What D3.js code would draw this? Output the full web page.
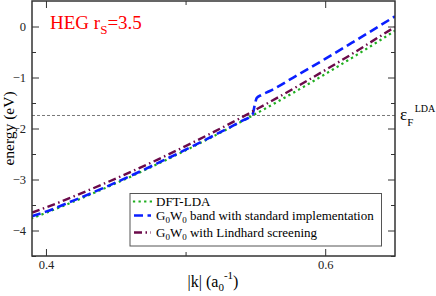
<!DOCTYPE html>
<html>
<head>
<meta charset="utf-8">
<script src="https://cdn.jsdelivr.net/npm/d3@7"></script>
<style>
  body { margin: 0; background: #fff; }
  svg text { font-family: "Liberation Serif", serif !important; }
</style>
</head>
<body>
<script>
// values
var kValues = [0.39, 0.40, 0.42, 0.44, 0.46, 0.48, 0.50, 0.52, 0.54, 0.548, 0.56, 0.58, 0.60, 0.62, 0.64, 0.65];
var ldaValues = [-3.76, -3.654, -3.431, -3.197, -2.952, -2.696, -2.43, -2.152, -1.864, -1.745, -1.564, -1.254, -0.933, -0.601, -0.258, -0.083];
var lindhardValues = [-3.65, -3.55, -3.33, -3.10, -2.86, -2.61, -2.345, -2.07, -1.785, -1.665, -1.485, -1.175, -0.855, -0.525, -0.18, -0.01];

var kBlue = [0.39, 0.40, 0.42, 0.44, 0.46, 0.48, 0.50, 0.52, 0.54, 0.548, 0.5496, 0.551, 0.5546, 0.56, 0.58, 0.60, 0.62, 0.64, 0.65];
var standardValues = [-3.72, -3.63, -3.41, -3.18, -2.935, -2.68, -2.415, -2.14, -1.855, -1.72, -1.53, -1.40, -1.34, -1.27, -0.955, -0.635, -0.305, 0.03, 0.2];

var fermiLevel = -1.745;
var xMajorTicks = [0.4, 0.6];
var xMinorTicks = [0.5];
var yMajorTicks = [-4, -3, -2, -1, 0];
var yMinorTicks = [-4.5, -3.5, -2.5, -1.5, -0.5];

var legendNames = ["DFT-LDA", "G0W0 band with standard implementation", "G0W0 with Lindhard screening"];

var W = 436, H = 296;
var pLeft = 32, pRight = 395, pTop = 1, pBottom = 256;

var svg = d3.select("body").append("svg")
    .attr("width", W)
    .attr("height", H);

var x = d3.scaleLinear().domain([0.39, 0.65]).range([pLeft, pRight]);
var y = d3.scaleLinear().domain([-4.5, 0.5]).range([pBottom, pTop]);

// clip for curves
svg.append("clipPath").attr("id", "clip")
    .append("rect")
    .attr("x", pLeft).attr("y", pTop)
    .attr("width", pRight - pLeft).attr("height", pBottom - pTop);

// fermi level line
svg.append("line")
    .attr("x1", pLeft).attr("x2", pRight)
    .attr("y1", y(fermiLevel)).attr("y2", y(fermiLevel))
    .attr("stroke", "#555")
    .attr("stroke-width", 0.8)
    .attr("stroke-dasharray", "3,2");

var line = d3.line()
    .x(function (d) { return x(d[0]); })
    .y(function (d) { return y(d[1]); })
    .curve(d3.curveMonotoneX);

var series = [
    { pts: d3.zip(kValues, ldaValues), color: "#1fae1f", width: 2.2, dash: "0.1,5.5", cap: "square" },
    { pts: d3.zip(kBlue, standardValues), color: "#0a1fff", width: 2.6, dash: "9,4.5", cap: "butt" },
    { pts: d3.zip(kValues, lindhardValues), color: "#6b0a4a", width: 2.4, dash: "8,3.5,1.5,3.5", cap: "butt" }
];

var g = svg.append("g").attr("clip-path", "url(#clip)");
series.forEach(function (s) {
    g.append("path")
        .attr("d", line(s.pts))
        .attr("fill", "none")
        .attr("stroke", s.color)
        .attr("stroke-width", s.width)
        .attr("stroke-dasharray", s.dash)
        .attr("stroke-linecap", s.cap);
});

// axes, ticks inward
var axisColor = "#333";
svg.append("g").attr("transform", "translate(" + pLeft + ",0)")
    .call(d3.axisLeft(y).tickValues(yMajorTicks).tickSize(-7).tickPadding(6).tickFormat(d3.format("d")));
svg.append("g").attr("transform", "translate(" + pLeft + ",0)")
    .call(d3.axisLeft(y).tickValues(yMinorTicks).tickSize(-4).tickFormat(""));
svg.append("g").attr("transform", "translate(" + pRight + ",0)")
    .call(d3.axisRight(y).tickValues(yMajorTicks).tickSize(-7).tickFormat(""));
svg.append("g").attr("transform", "translate(" + pRight + ",0)")
    .call(d3.axisRight(y).tickValues(yMinorTicks).tickSize(-4).tickFormat(""));
svg.append("g").attr("transform", "translate(0," + pBottom + ")")
    .call(d3.axisBottom(x).tickValues(xMajorTicks).tickSize(-7).tickPadding(4).tickFormat(d3.format(".1f")));
svg.append("g").attr("transform", "translate(0," + pBottom + ")")
    .call(d3.axisBottom(x).tickValues(xMinorTicks).tickSize(-4).tickFormat(""));
svg.append("g").attr("transform", "translate(0," + pTop + ")")
    .call(d3.axisTop(x).tickValues(xMajorTicks).tickSize(-7).tickFormat(""));
svg.append("g").attr("transform", "translate(0," + pTop + ")")
    .call(d3.axisTop(x).tickValues(xMinorTicks).tickSize(-4).tickFormat(""));

svg.selectAll(".domain").remove();
svg.selectAll(".tick line").attr("stroke", axisColor).attr("stroke-width", 1);
svg.selectAll(".tick text")
    .attr("font-size", 12.5)
    .attr("fill", "#222");

// frame
svg.append("rect")
    .attr("x", pLeft).attr("y", pTop)
    .attr("width", pRight - pLeft).attr("height", pBottom - pTop)
    .attr("fill", "none")
    .attr("stroke", axisColor)
    .attr("stroke-width", 1.5);

// legend
var legend = svg.append("g");
legend.append("rect")
    .attr("x", 130).attr("y", 193.5)
    .attr("width", 251.5).attr("height", 52.5)
    .attr("fill", "#fff")
    .attr("stroke", "#555")
    .attr("stroke-width", 1);

var rowY = [205.5, 219.5, 236.5];
series.forEach(function (s, i) {
    var ly = rowY[i] - 4;
    legend.append("line")
        .attr("x1", 134).attr("x2", 151)
        .attr("y1", ly).attr("y2", ly)
        .attr("stroke", s.color)
        .attr("stroke-width", s.width)
        .attr("stroke-dasharray", s.dash)
        .attr("stroke-linecap", s.cap);
});

legend.append("text")
    .attr("x", 156).attr("y", rowY[0])
    .attr("font-size", 13)
    .text(legendNames[0]);

function gwText(yy, rest) {
    var t = legend.append("text").attr("x", 156).attr("y", yy).attr("font-size", 13);
    t.append("tspan").text("G");
    t.append("tspan").attr("font-size", 9).attr("dy", 3).text("0");
    t.append("tspan").attr("dy", -3).text("W");
    t.append("tspan").attr("font-size", 9).attr("dy", 3).text("0");
    t.append("tspan").attr("dy", -3).text(" " + rest);
}
gwText(rowY[1], legendNames[1].replace("G0W0 ", ""));
gwText(rowY[2], legendNames[2].replace("G0W0 ", ""));

// title
var title = svg.append("text")
    .attr("x", 50).attr("y", 29)
    .attr("font-size", 19)
    .attr("fill", "#ff0000");
title.append("tspan").text("HEG r");
title.append("tspan").attr("font-size", 13).attr("dy", 5).text("S");
title.append("tspan").attr("dy", -5).text("=3.5");

// fermi label
var ef = svg.append("text")
    .attr("x", 400).attr("y", 120)
    .attr("font-size", 17);
ef.append("tspan").text("\u03b5");
ef.append("tspan").attr("font-size", 11).attr("dy", 6).text("F");
ef.append("tspan").attr("font-size", 10).attr("dy", -14).attr("dx", 1.5).text("LDA");

// axis titles
svg.append("text")
    .attr("transform", "translate(14," + ((pTop + pBottom) / 2) + ") rotate(-90)")
    .attr("text-anchor", "middle")
    .attr("font-size", 15.5)
    .text("energy (eV)");

var xl = svg.append("text")
    .attr("x", 213).attr("y", 287)
    .attr("text-anchor", "middle")
    .attr("font-size", 16);
xl.append("tspan").text("|k| (a");
xl.append("tspan").attr("font-size", 11).attr("dy", 4).text("0");
xl.append("tspan").attr("font-size", 11).attr("dy", -12).text("-1");
xl.append("tspan").attr("dy", 8).text(")");
</script>
</body>
</html>
